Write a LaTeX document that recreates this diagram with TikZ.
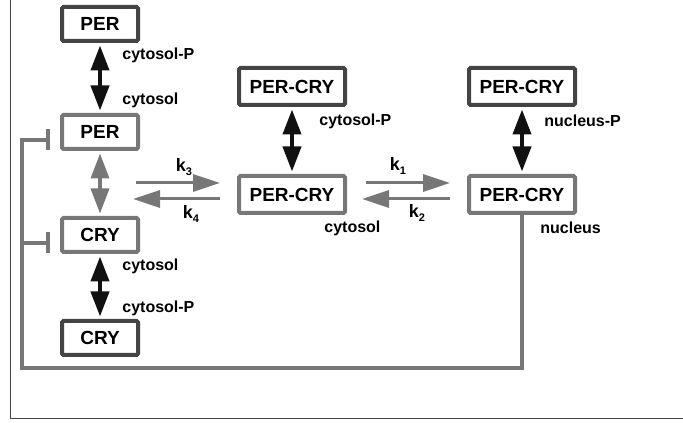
\documentclass[tikz,border=0pt]{standalone}
\usepackage{fontspec}
\setmainfont{Liberation Sans}
\usetikzlibrary{arrows.meta,positioning}
\definecolor{lightline}{HTML}{777777}
\definecolor{darkline}{HTML}{444444}
\definecolor{tipblack}{HTML}{111111}

\begin{document}
\begin{tikzpicture}[
			x=1pt, y=1pt,
			thick,
			box/.style={rectangle, draw=lightline, line width=4pt, rounded corners=1.5pt, minimum width=76pt, minimum height=34pt, align=center, font=\fontsize{19}{22}\selectfont\bfseries},
			pbox/.style={box, draw=darkline},
			wide/.style={minimum width=106pt, minimum height=37pt},
			lbl/.style={anchor=west, inner sep=0pt, font=\fontsize{16}{18}\selectfont\bfseries},
			klbl/.style={inner sep=0pt, font=\fontsize{18}{20}\selectfont\bfseries},
			dbl/.style={line width=4pt, tipblack, {Triangle[width=18pt,length=25pt]}-{Triangle[width=18pt,length=25pt]}, shorten <=2.5pt, shorten >=2.5pt},
			gdbl/.style={dbl, lightline, line width=3.5pt},
			flow/.style={line width=3pt, lightline, -{Triangle[width=17pt,length=27pt]}},
			fb/.style={line width=4pt, lightline, -{Bar[width=21pt]}}
		]
		\useasboundingbox (0,0) rectangle (683,423);
		\draw[darkline, line width=1pt] (10,423) |- (683,4);

		% cytosol: PER and CRY
		\node[pbox] (PERp) at (100,399) {PER};
		\node[box] (PER) at (100,291) {PER};
		\node[box] (CRY) at (100,188) {CRY};
		\node[pbox] (CRYp) at (100,85) {CRY};

		% complexes
		\node[box, wide] (PC) at (292,228.5) {PER-CRY};
		\node[pbox, wide, above=67pt of PC] (PCp) {PER-CRY};
		\node[box, wide] (PCn) at (522,228.5) {PER-CRY};
		\node[pbox, wide, above=67pt of PCn] (PCnp) {PER-CRY};

		\draw[dbl] (PERp) -- (PER);
		\draw[gdbl] (PER) -- (CRY);
		\draw[dbl] (CRY) -- (CRYp);
		\draw[dbl] (PCp) -- (PC);
		\draw[dbl] (PCnp) -- (PCn);

		% association / transport
		\draw[flow] ([shift={(-101pt,11.5pt)}]PC.west) -- ([shift={(-17pt,11.5pt)}]PC.west);
		\draw[flow] ([shift={(-17pt,-4.5pt)}]PC.west) -- ([shift={(-104pt,-4.5pt)}]PC.west);
		\draw[flow] ([shift={(19pt,11.5pt)}]PC.east) -- ([shift={(-17pt,11.5pt)}]PCn.west);
		\draw[flow] ([shift={(-17pt,-4.5pt)}]PCn.west) -- ([shift={(15pt,-4.5pt)}]PC.east);

		\node[klbl] (k3) at (184,256) {k\raisebox{-4pt}{\fontsize{11}{12}\selectfont 3}};
		\node[klbl] (k4) at (191,209) {k\raisebox{-4pt}{\fontsize{11}{12}\selectfont 4}};
		\node[klbl] (k1) at (398,257) {k\raisebox{-4pt}{\fontsize{11}{12}\selectfont 1}};
		\node[klbl] (k2) at (417,210) {k\raisebox{-4pt}{\fontsize{11}{12}\selectfont 2}};

		% compartment labels
		\node[lbl] (l1) at (122,368) {cytosol-P};
		\node[lbl] (l2) at (122,323) {cytosol};
		\node[lbl] (l3) at (122,157) {cytosol};
		\node[lbl] (l4) at (122,115) {cytosol-P};
		\node[lbl] (l5) at (319,302) {cytosol-P};
		\node[lbl] (l6) at (324,195) {cytosol};
		\node[lbl] (l7) at (544,302) {nucleus-P};
		\node[lbl] (l8) at (540,195) {nucleus};

		% feedback repression
		\draw[fb] (PCn.south) -- ++(0,-153pt) -| ([shift={(-38pt,-8pt)}]PER.west) -- ([shift={(-10pt,-8pt)}]PER.west);
		\draw[fb] ([shift={(-38pt,-8pt)}]CRY.west) -- ([shift={(-10pt,-8pt)}]CRY.west);

	\end{tikzpicture}
\end{document}
